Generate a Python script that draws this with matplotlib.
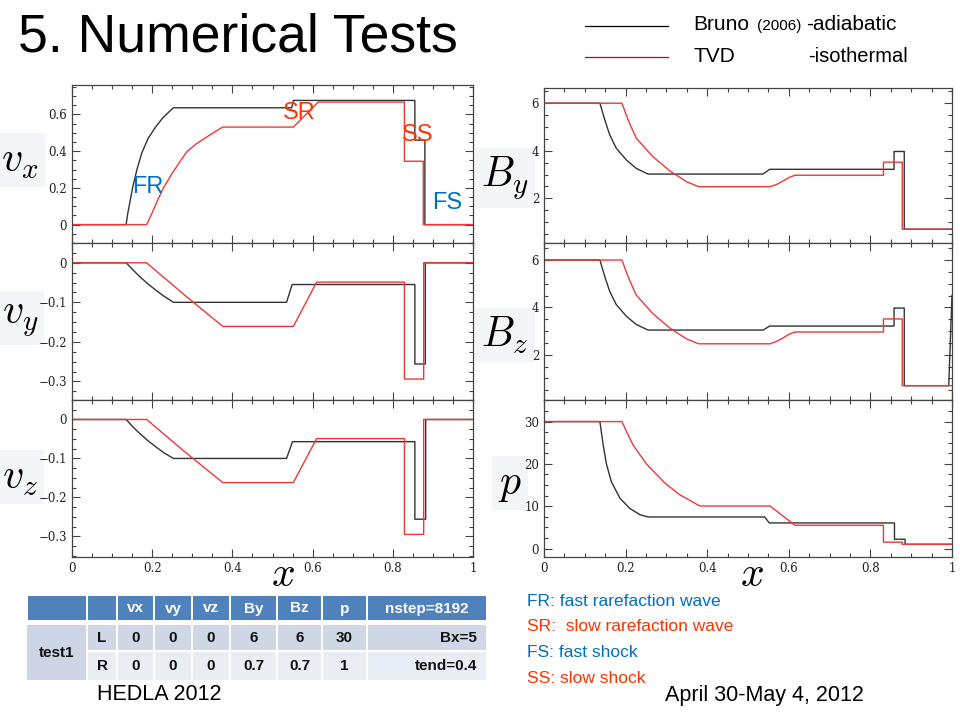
import matplotlib
matplotlib.use("Agg")
import matplotlib.pyplot as plt
from matplotlib.patches import Rectangle
from matplotlib.lines import Line2D
from matplotlib.ticker import MultipleLocator, FuncFormatter

plt.rcParams["mathtext.fontset"] = "cm"

BLACK = "#333333"
RED = "#ee3838"
BLUE = "#0070c0"
ORANGE = "#ff3300"

# ---- profiles (x, value) ----
vx_bruno_x = [0, 0.135, 0.139, 0.145, 0.152, 0.162, 0.174, 0.19, 0.208, 0.226, 0.24, 0.253,
              0.548, 0.552, 0.855, 0.855, 0.880, 0.880, 1.0]
vx_bruno_y = [0, 0, 0.06, 0.13, 0.21, 0.3, 0.39, 0.47, 0.53, 0.58, 0.61, 0.636,
              0.636, 0.676, 0.676, 0.46, 0.46, 0, 0]
vx_tvd_x = [0, 0.186, 0.2, 0.214, 0.228, 0.25, 0.27, 0.286, 0.31, 0.336, 0.356, 0.376,
            0.552, 0.614, 0.829, 0.829, 0.876, 0.876, 1.0]
vx_tvd_y = [0, 0, 0.065, 0.135, 0.2, 0.28, 0.345, 0.396, 0.44, 0.477, 0.505, 0.531,
            0.531, 0.667, 0.667, 0.345, 0.345, 0, 0]

vy_bruno_x = [0, 0.135, 0.15, 0.17, 0.19, 0.21, 0.23, 0.253, 0.535, 0.549, 0.855, 0.855, 0.881, 0.881, 1.0]
vy_bruno_y = [0, 0, -0.016, -0.036, -0.054, -0.07, -0.085, -0.1, -0.1, -0.055, -0.055, -0.256, -0.256, 0, 0]
vy_tvd_x = [0, 0.186, 0.286, 0.376, 0.552, 0.610, 0.829, 0.829, 0.877, 0.877, 1.0]
vy_tvd_y = [0, 0, -0.086, -0.161, -0.161, -0.049, -0.049, -0.294, -0.294, 0, 0]

vz_bruno_x = [0, 0.135, 0.15, 0.17, 0.19, 0.21, 0.23, 0.253, 0.535, 0.55, 0.855, 0.855, 0.882, 0.882, 1.0]
vz_bruno_y = [0, 0, -0.017, -0.037, -0.055, -0.071, -0.086, -0.1, -0.1, -0.057, -0.057, -0.256, -0.256, 0, 0]
vz_tvd_x = [0, 0.186, 0.286, 0.376, 0.552, 0.610, 0.829, 0.829, 0.877, 0.877, 1.0]
vz_tvd_y = [0, 0, -0.087, -0.162, -0.162, -0.049, -0.049, -0.295, -0.295, 0, 0]

by_bruno_x = [0, 0.137, 0.149, 0.161, 0.177, 0.202, 0.226, 0.255, 0.537, 0.553, 0.858, 0.858, 0.883, 0.883, 1.0]
by_bruno_y = [6, 6, 5.3, 4.67, 4.11, 3.61, 3.26, 3.02, 3.02, 3.22, 3.22, 3.97, 3.97, 0.7, 0.7]
by_tvd_x = [0, 0.191, 0.206, 0.226, 0.267, 0.308, 0.349, 0.379, 0.554, 0.57, 0.585, 0.6, 0.615,
            0.832, 0.832, 0.878, 0.878, 1.0]
by_tvd_y = [6, 6, 5.3, 4.53, 3.75, 3.16, 2.7, 2.49, 2.49, 2.58, 2.72, 2.87, 2.97,
            2.97, 3.52, 3.52, 0.7, 0.7]

bz_bruno_x = [0, 0.137, 0.149, 0.161, 0.177, 0.202, 0.226, 0.255, 0.537, 0.553, 0.858, 0.858,
              0.883, 0.883, 0.992, 1.0]
bz_bruno_y = [6, 6, 5.3, 4.68, 4.12, 3.62, 3.28, 3.04, 3.04, 3.21, 3.21, 3.97,
              3.97, 0.69, 0.69, 4.5]
bz_tvd_x = [0, 0.191, 0.206, 0.226, 0.267, 0.308, 0.349, 0.379, 0.554, 0.57, 0.585, 0.6, 0.615,
            0.832, 0.832, 0.878, 0.878, 1.0]
bz_tvd_y = [6, 6, 5.3, 4.52, 3.73, 3.13, 2.67, 2.46, 2.46, 2.56, 2.7, 2.86, 2.96,
            2.96, 3.51, 3.51, 0.69, 0.69]

p_bruno_x = [0, 0.137, 0.145, 0.153, 0.165, 0.186, 0.21, 0.235, 0.255, 0.541, 0.552, 0.859, 0.859,
             0.885, 0.885, 1.0]
p_bruno_y = [30, 30, 24.5, 20.0, 15.8, 11.9, 9.5, 8.0, 7.46, 7.46, 6.05, 6.05, 2.2, 2.2, 1.0, 1.0]
p_tvd_x = [0, 0.191, 0.202, 0.218, 0.251, 0.296, 0.333, 0.382, 0.554, 0.615, 0.832, 0.832, 0.878, 0.878, 1.0]
p_tvd_y = [30, 30, 27.7, 24.5, 20.0, 15.5, 12.7, 10.05, 10.05, 5.5, 5.5, 1.5, 1.5, 1.0, 1.0]

# ---- table contents ----
table_header = ["", "", "vx", "vy", "vz", "By", "Bz", "p", "nstep=8192"]
table_left = ["L", "0", "0", "0", "6", "6", "30", "Bx=5"]
table_right = ["R", "0", "0", "0", "0.7", "0.7", "1", "tend=0.4"]
table_case = "test1"

wave_notes = [("FR: fast rarefaction wave", BLUE), ("SR:  slow rarefaction wave", ORANGE),
              ("FS: fast shock", BLUE), ("SS: slow shock", ORANGE)]

fig = plt.figure(figsize=(9.6, 7.2), dpi=100)

# full-figure overlay in pixel coords for slide decoration
ov = fig.add_axes([0, 0, 1, 1])
ov.set_xlim(0, 960)
ov.set_ylim(720, 0)
ov.axis("off")


def px_axes(x0, y0, x1, y1):
    return fig.add_axes([x0 / 960, 1 - y1 / 720, (x1 - x0) / 960, (y1 - y0) / 720])


def style(ax, ylim, major, minor, bottom_labels):
    ax.set_xlim(0, 1)
    ax.set_ylim(*ylim)
    ax.xaxis.set_major_locator(MultipleLocator(0.2))
    ax.xaxis.set_minor_locator(MultipleLocator(0.05))
    ax.yaxis.set_major_locator(MultipleLocator(major))
    ax.yaxis.set_minor_locator(MultipleLocator(minor))
    ax.tick_params(which="both", direction="in", top=True, right=True, colors="#444444",
                   labelcolor="#222222", labelsize=8.5, width=0.8)
    ax.tick_params(which="major", length=6)
    ax.tick_params(which="minor", length=3)
    fmt = FuncFormatter(lambda v, _: "0" if abs(v) < 1e-9 else f"{v:g}".replace("-", "\u2212"))
    ax.xaxis.set_major_formatter(fmt)
    ax.yaxis.set_major_formatter(fmt)
    for lab in ax.get_xticklabels() + ax.get_yticklabels():
        lab.set_family("DejaVu Serif")
    if not bottom_labels:
        ax.tick_params(labelbottom=False)
    for s in ax.spines.values():
        s.set_color("#444444")
        s.set_linewidth(0.9)


panels = [
    ((72, 85, 473, 243), vx_bruno_x, vx_bruno_y, vx_tvd_x, vx_tvd_y, (-0.1, 0.76), 0.2, 0.05, False),
    ((72, 243, 473, 400), vy_bruno_x, vy_bruno_y, vy_tvd_x, vy_tvd_y, (-0.347, 0.05), 0.1, 0.025, False),
    ((72, 400, 473, 557), vz_bruno_x, vz_bruno_y, vz_tvd_x, vz_tvd_y, (-0.353, 0.05), 0.1, 0.025, True),
    ((544, 88, 952, 243), by_bruno_x, by_bruno_y, by_tvd_x, by_tvd_y, (0.12, 6.64), 2, 0.5, False),
    ((544, 243, 952, 400), bz_bruno_x, bz_bruno_y, bz_tvd_x, bz_tvd_y, (0.085, 6.72), 2, 0.5, False),
    ((544, 400, 952, 557), p_bruno_x, p_bruno_y, p_tvd_x, p_tvd_y, (-2, 35.1), 10, 2.5, True),
]

axes = []
for box, bx, by, tx, ty, ylim, major, minor, labels in panels:
    ax = px_axes(*box)
    ax.plot(bx, by, color=BLACK, lw=1.0)
    ax.plot(tx, ty, color=RED, lw=1.0)
    style(ax, ylim, major, minor, labels)
    axes.append(ax)

# wave labels in the vx panel
ax_vx = axes[0]
for txt, x, y, col in [("FR", 0.19, 0.205, BLUE), ("SR", 0.566, 0.61, ORANGE),
                       ("SS", 0.863, 0.49, ORANGE), ("FS", 0.935, 0.12, BLUE)]:
    ax_vx.text(x, y, txt, color=col, fontsize=17, family="Liberation Sans", ha="center", va="center")

# big variable labels
box_style = dict(boxstyle="square,pad=0.15", facecolor="#f3f5f8", edgecolor="none")
for label, x, y in [("$v_x$", 20, 160), ("$v_y$", 20, 318), ("$v_z$", 20, 477),
                    ("$B_y$", 505, 178), ("$B_z$", 505, 335), ("$p$", 510, 483)]:
    ov.text(x, y, label, fontsize=30, ha="center", va="center", bbox=box_style)
ov.text(283, 574, "$x$", fontsize=30, ha="center", va="center")
ov.text(752, 574, "$x$", fontsize=30, ha="center", va="center")

# title and legend
ov.text(18, 37, "5. Numerical Tests", fontsize=38.5, family="Liberation Sans", ha="left", va="center")
ov.add_line(Line2D([585, 668], [26, 26], color="black", lw=0.9))
ov.add_line(Line2D([585, 668], [57, 57], color="#cc0000", lw=0.9))
ov.text(693, 25, "Bruno", fontsize=15, family="Liberation Sans", ha="left", va="center")
ov.text(757, 26, "(2006)", fontsize=11, family="Liberation Sans", ha="left", va="center")
ov.text(806, 25, "-adiabatic", fontsize=15, family="Liberation Sans", ha="left", va="center")
ov.text(693, 56, "TVD", fontsize=15, family="Liberation Sans", ha="left", va="center")
ov.text(808, 56, "-isothermal", fontsize=14.5, family="Liberation Sans", ha="left", va="center")

# parameter table
col_edges = [27, 87, 117, 154, 192, 230, 277, 322, 367, 487]
row_edges = [(596, 621), (625, 651), (652, 681)]
row_colors = ["#4f81bd", "#d0d8e8", "#e9edf4"]
gap = 1.0
for r, (y0, y1) in enumerate(row_edges):
    for c in range(len(col_edges) - 1):
        if r > 0 and c == 0:
            continue
        x0, x1 = col_edges[c], col_edges[c + 1]
        ov.add_patch(Rectangle((x0 + gap, y0), x1 - x0 - 2 * gap, y1 - y0 - gap,
                               facecolor=row_colors[r], edgecolor="none"))
ov.add_patch(Rectangle((col_edges[0], row_edges[1][0]), col_edges[1] - col_edges[0] - gap,
                       row_edges[2][1] - row_edges[1][0] - gap, facecolor="#cdd5e6", edgecolor="none"))

cell_font = dict(family="Liberation Sans", fontsize=11, fontweight="bold", va="center")
for c, txt in enumerate(table_header):
    xc = (col_edges[c] + col_edges[c + 1]) / 2
    ov.text(xc, (row_edges[0][0] + row_edges[0][1]) / 2, txt, color="white", ha="center", **cell_font)
for r, row in enumerate([table_left, table_right], start=1):
    yc = (row_edges[r][0] + row_edges[r][1]) / 2
    for c, txt in enumerate(row, start=1):
        if c == len(col_edges) - 2:
            ov.text(col_edges[c + 1] - 10, yc, txt, color="#111111", ha="right", **cell_font)
        else:
            xc = (col_edges[c] + col_edges[c + 1]) / 2
            ov.text(xc, yc, txt, color="#111111", ha="center", **cell_font)
ov.text(57, (row_edges[1][0] + row_edges[2][1]) / 2, table_case, color="#111111", ha="center", **cell_font)

# wave legend and footer
for i, (txt, col) in enumerate(wave_notes):
    ov.text(527, 601 + i * 25.7, txt, color=col, fontsize=12.5, family="Liberation Sans",
            ha="left", va="center")
ov.text(97, 695, "HEDLA 2012", fontsize=15.5, family="Liberation Sans", ha="left", va="center")
ov.text(665, 695, "April 30-May 4, 2012", fontsize=15.5, family="Liberation Sans", ha="left", va="center")

fig.savefig("out.png", dpi=100)
